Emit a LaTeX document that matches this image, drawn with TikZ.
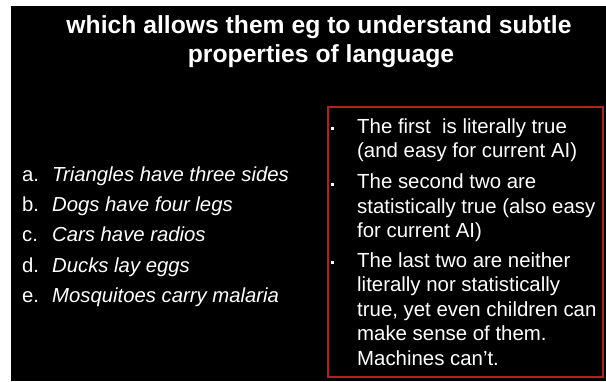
\documentclass[tikz,border=0pt]{standalone}
\usepackage{fontspec}
\setmainfont{Liberation Sans}
\definecolor{boxred}{RGB}{178,34,24}
\tikzset{
  titletext/.style={text=white, font=\fontsize{24.7}{30}\selectfont\bfseries, anchor=base, inner sep=0pt},
  lbl/.style={text=white, font=\fontsize{20.3}{24}\selectfont, anchor=base west, inner sep=0pt},
  item/.style={text=white, font=\fontsize{20.3}{24}\selectfont\itshape, anchor=base west, inner sep=0pt},
  rline/.style={text=white, font=\fontsize{20.4}{24}\selectfont, anchor=base west, inner sep=0pt},
  bul/.style={fill=white, draw=none, minimum size=3pt, inner sep=0pt, rectangle},
  frame/.style={draw=boxred, line width=1.6pt}
}
\begin{document}
\begin{tikzpicture}[x=1pt,y=-1pt]
\useasboundingbox (0,0) rectangle (606,381);
\fill[white] (0,0) rectangle (606,381);
\fill[black] (11,6) rectangle (606,381);
% title
\node[titletext] (t1) at (319,33.5) {which allows them eg to understand subtle};
\node[titletext] (t2) at (321,62) {properties of language};
% left list
\node[lbl] (la) at (22,181) {a.};
\node[item] (ia) at (52,181) {Triangles have three sides};
\node[lbl] (lb) at (22,211.4) {b.};
\node[item] (ib) at (52,211.4) {Dogs have four legs};
\node[lbl] (lc) at (22,241.8) {c.};
\node[item] (ic) at (52,241.8) {Cars have radios};
\node[lbl] (ld) at (22,272.2) {d.};
\node[item] (id) at (52,272.2) {Ducks lay eggs};
\node[lbl] (le) at (22,302.6) {e.};
\node[item] (ie) at (52,302.6) {Mosquitoes carry malaria};
% right box
\node[frame, minimum width=275pt, minimum height=270pt, anchor=north west, inner sep=0pt] (box) at (327,106) {};
\node[bul] (b1) at (332.5,128.5) {};
\node[rline] (r1) at (357,133) {The first\ \ is literally true};
\node[rline] (r2) at (357,157.5) {(and easy for current AI)};
\node[bul] (b2) at (332.5,184) {};
\node[rline] (r3) at (357,188.5) {The second two are};
\node[rline] (r4) at (357,213) {statistically true (also easy};
\node[rline] (r5) at (357,237.5) {for current AI)};
\node[bul] (b3) at (332.5,262.5) {};
\node[rline] (r6) at (357,267) {The last two are neither};
\node[rline] (r7) at (357,291.5) {literally nor statistically};
\node[rline] (r8) at (357,316) {true, yet even children can};
\node[rline] (r9) at (357,340.5) {make sense of them.};
\node[rline] (r10) at (357,365) {Machines can’t.};
\end{tikzpicture}
\end{document}
